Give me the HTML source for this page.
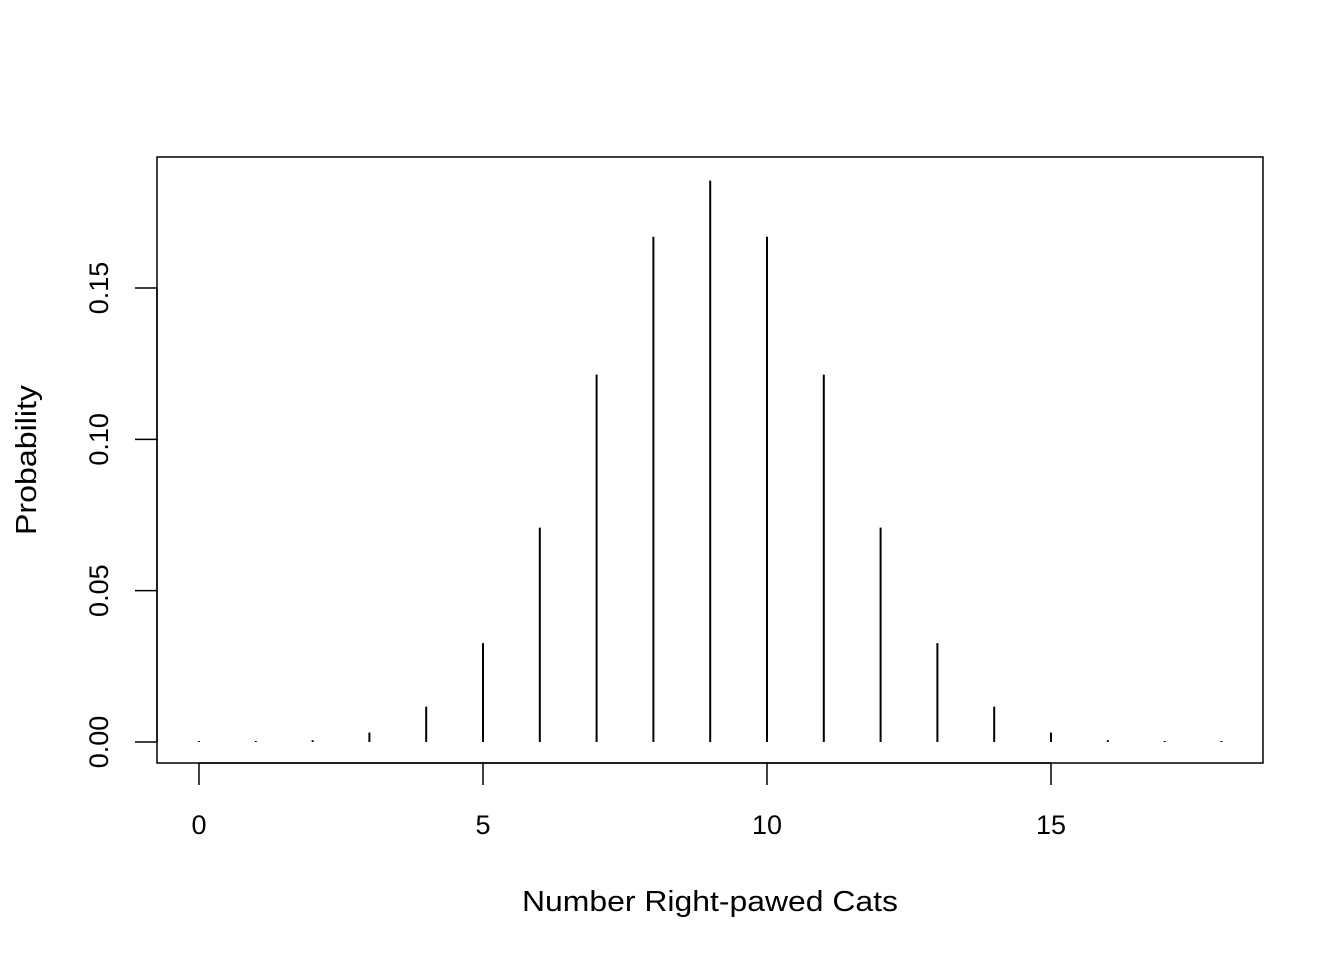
<!DOCTYPE html>
<html><head><meta charset="utf-8"><style>
html,body{margin:0;padding:0;background:#fff;}
svg text{font-family:"Liberation Sans",Arial,sans-serif;font-size:27px;fill:#000;}
</style></head><body>
<svg id="chart" width="1344" height="960" xmlns="http://www.w3.org/2000/svg">
<rect x="157" y="157" width="1106" height="606" fill="none" stroke="#000" stroke-width="1.5"/>
<g id="marks"></g>
<g id="xaxis"></g>
<g id="yaxis"></g>
<text x="710" y="911" text-anchor="middle" textLength="376" lengthAdjust="spacingAndGlyphs" style="font-size:29px">Number Right-pawed Cats</text>
<text transform="translate(36,460) rotate(-90)" text-anchor="middle" textLength="150" lengthAdjust="spacingAndGlyphs" style="font-size:29px">Probability</text>
</svg>
<script>
const categories=[0,1,2,3,4,5,6,7,8,9,10,11,12,13,14,15,16,17,18];
const probabilities=[0.0000038,0.0000687,0.000584,0.003113,0.011673,0.032684,0.070816,0.121399,0.166924,0.185471,0.166924,0.121399,0.070816,0.032684,0.011673,0.003113,0.000584,0.0000687,0.0000038];
const xTicks=[0,5,10,15];
const yTicks=[0,0.05,0.10,0.15];
const yTickLabels=["0.00","0.05","0.10","0.15"];
const NS="http://www.w3.org/2000/svg";
function xs(v){return 199+v*(1051-199)/15;}
function ys(v){return 742-v*(742-288)/0.15;}
function mk(t,a,p){const e=document.createElementNS(NS,t);for(const k in a)e.setAttribute(k,a[k]);p.appendChild(e);return e;}
const marks=document.getElementById('marks');
categories.forEach((c,i)=>{
  const l=mk('line',{x1:xs(c),x2:xs(c),y1:ys(0),y2:Math.min(ys(probabilities[i]),ys(0)-1),stroke:'#000','stroke-width':2},marks);
  
  
});
const xa=document.getElementById('xaxis');
mk('line',{x1:xs(xTicks[0]),x2:xs(xTicks[xTicks.length-1]),y1:763,y2:763,stroke:'#000','stroke-width':1.5},xa);
xTicks.forEach(t=>{
  mk('line',{x1:xs(t),x2:xs(t),y1:763,y2:785,stroke:'#000','stroke-width':1.5},xa);
  const tx=mk('text',{x:xs(t),y:834,'text-anchor':'middle'},xa);tx.textContent=t;
  
  
});
const ya=document.getElementById('yaxis');
mk('line',{x1:157,x2:157,y1:ys(yTicks[0]),y2:ys(yTicks[yTicks.length-1]),stroke:'#000','stroke-width':1.5},ya);
yTicks.forEach((t,i)=>{
  mk('line',{x1:135,x2:157,y1:ys(t),y2:ys(t),stroke:'#000','stroke-width':1.5},ya);
  const tx=mk('text',{transform:`translate(108,${ys(t)}) rotate(-90)`,'text-anchor':'middle'},ya);tx.textContent=yTickLabels[i];
  
  
});
</script>
</body></html>
